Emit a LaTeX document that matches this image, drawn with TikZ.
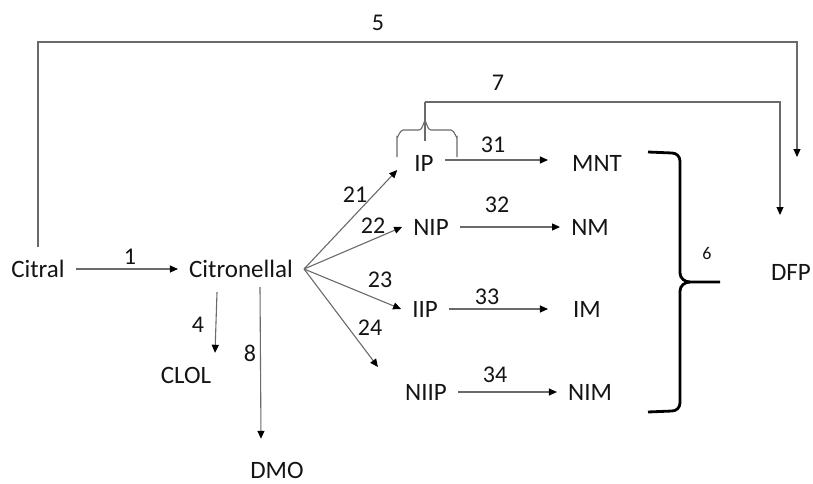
\documentclass[tikz,border=0pt]{standalone}
\usepackage{fontspec}
\setmainfont{Carlito}
\usepackage{tikz}
\usetikzlibrary{arrows.meta}
\definecolor{linegrey}{HTML}{6A6A6A}
\definecolor{inkblack}{HTML}{141414}

\begin{document}
\begin{tikzpicture}[x=1pt,y=-1pt,
		chem/.style={inner xsep=11pt,inner ysep=4pt,text height=16pt,text depth=0pt,font=\fontsize{25}{30}\selectfont,text=inkblack},
		num/.style={inner sep=0pt,font=\fontsize{24}{28}\selectfont,text=inkblack},
		link/.style={draw=linegrey,line width=1.1pt},
		arr/.style={link,-{Triangle[length=8pt,width=7pt,color=black]}},
		bigbrace/.style={draw=black,line width=2.8pt}]
	\useasboundingbox (0,0) rectangle (813,484);
	
	% compounds
	\node[chem] (citral)      at (38,269)  {Citral};
	\node[chem] (citronellal) at (241,269) {Citronellal};
	\node[chem] (clol)        at (186,375) {CLOL};
	\node[chem] (dmo)         at (277,470) {DMO};
	\node[chem] (ip)          at (424,163) {IP};
	\node[chem] (nip)         at (431,227) {NIP};
	\node[chem] (iip)         at (425,309) {IIP};
	\node[chem] (niip)        at (426,392) {NIIP};
	\node[chem] (mnt)         at (597,163) {MNT};
	\node[chem] (nm)          at (590,227) {NM};
	\node[chem] (im)          at (587,309) {IM};
	\node[chem] (nim)         at (590,392) {NIM};
	\node[chem] (dfp)         at (791,272) {DFP};
	
	% free ends and corners of the long routes
	\coordinate (route5)    at (797,42);
	\coordinate (dfp5)      at (797,157);
	\coordinate (bracetip)  at (425,102);
	\coordinate (bracefoot) at (425,141);
	\coordinate (route7)    at (780,102);
	\coordinate (dfp7)      at (780,215);
	
	% citral -> citronellal -> side products
	\draw[arr] (citral) -- (citronellal);
	\draw[arr] ([xshift=-24pt,yshift=-11pt]citronellal.south) -- ([xshift=29pt,yshift=10pt]clol.north);
	\draw[arr] ([xshift=19pt,yshift=-6pt]citronellal.south) -- ([xshift=-16pt,yshift=19pt]dmo.north);
	
	% cyclisation to the isopulegols
	\draw[arr] (citronellal.east) -- ([xshift=-6pt,yshift=-7pt]ip.west);
	\draw[arr] (citronellal.east) -- (nip.west);
	\draw[arr] (citronellal.east) -- (iip.west);
	\draw[arr] (citronellal.east) -- ([xshift=-16pt,yshift=25pt]niip.west);
	
	% hydrogenation to the menthols
	\draw[arr] ([yshift=3pt]ip.east) -- ([xshift=-13pt,yshift=3pt]mnt.west);
	\draw[arr] (nip) -- (nm);
	\draw[arr] (iip.east) -- ([xshift=-14pt]im.west);
	\draw[arr] (niip) -- (nim);
	
	% direct routes to DFP
	\draw[arr] ([yshift=10pt]citral.north) |- (route5) -- (dfp5);
	\draw[link] (397,157) -- (397,137) to[out=-90,in=180] (403,130) -- (419,130) to[out=0,in=90] (425,121)
		to[out=90,in=180] (431,130) -- (451,130) to[out=0,in=-90] (457,137) -- (457,157);
	\draw[link] (bracetip) -- (bracefoot);
	\draw[arr] (bracetip) -- (route7) -- (dfp7);
	
	% menthols grouped
	\draw[bigbrace] (648,152) -- (672,153) to[out=0,in=90] (680,161) -- (680,273) to[out=-90,in=180] (690,282) -- (720,282);
	\draw[bigbrace] (648,412) -- (672,411) to[out=0,in=-90] (680,403) -- (680,291) to[out=90,in=180] (690,282);
	
	% step numbers
	\node[num] (n1)  at (130,257) {1};
	\node[num] (n4)  at (198,325) {4};
	\node[num] (n8)  at (250,353) {8};
	\node[num] (n21) at (355,195) {21};
	\node[num] (n22) at (373,226) {22};
	\node[num] (n23) at (380,280) {23};
	\node[num] (n24) at (370,328) {24};
	\node[num] (n31) at (493,145) {31};
	\node[num] (n32) at (497,205) {32};
	\node[num] (n33) at (487,297) {33};
	\node[num] (n34) at (495,375) {34};
	\node[num] (n5)  at (378,23)  {5};
	\node[num] (n7)  at (498,83)  {7};
	\node[num,font=\fontsize{18}{22}\selectfont] (n6) at (707,253) {6};
\end{tikzpicture}
\end{document}
